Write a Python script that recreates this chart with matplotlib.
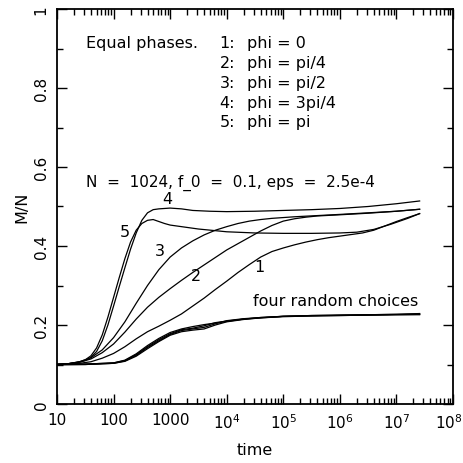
"""
Magnetizacao M/N em funcao do tempo: fases iguais e quatro escolhas aleatorias
"""

import numpy as np
import matplotlib
matplotlib.use('Agg')
import matplotlib.pyplot as plt
from matplotlib.ticker import LogLocator, MultipleLocator, FixedLocator, FixedFormatter

plt.rcParams['font.family'] = ['DejaVu Sans']
plt.rcParams['mathtext.fontset'] = 'dejavusans'

# curvas de fase igual: (log10 t, M/N)
lt1 = [1.0, 1.2, 1.4, 1.6, 1.8, 2.0, 2.2, 2.4, 2.6, 2.8, 3.0, 3.2, 3.4, 3.6, 3.8, 4.0, 4.2, 4.4, 4.6, 4.8,
       5.0, 5.2, 5.4, 5.6, 5.8, 6.0, 6.2, 6.4, 6.6, 6.8, 7.0, 7.2, 7.41]
m1 = [0.100, 0.101, 0.103, 0.107, 0.116, 0.128, 0.145, 0.165, 0.183, 0.197, 0.212, 0.228, 0.248, 0.268, 0.290,
      0.311, 0.333, 0.353, 0.372, 0.386, 0.395, 0.403, 0.410, 0.416, 0.421, 0.425, 0.429, 0.433, 0.440, 0.451,
      0.462, 0.472, 0.482]

lt2 = [1.0, 1.2, 1.4, 1.6, 1.8, 2.0, 2.2, 2.4, 2.6, 2.8, 3.0, 3.2, 3.4, 3.6, 3.8, 4.0, 4.2, 4.4, 4.6, 4.8,
       5.0, 5.2, 5.4, 5.6, 6.0, 6.5, 7.0, 7.41]
m2 = [0.100, 0.102, 0.106, 0.114, 0.130, 0.152, 0.182, 0.215, 0.245, 0.270, 0.292, 0.313, 0.333, 0.352, 0.371,
      0.390, 0.406, 0.422, 0.438, 0.452, 0.463, 0.469, 0.473, 0.476, 0.479, 0.483, 0.488, 0.493]

lt3 = [1.0, 1.2, 1.4, 1.6, 1.8, 2.0, 2.2, 2.4, 2.6, 2.8, 3.0, 3.2, 3.4, 3.6, 3.8, 4.0, 4.2, 4.4, 4.6, 4.8,
       5.0, 5.2, 5.6, 6.0, 6.5, 7.0, 7.41]
m3 = [0.100, 0.102, 0.107, 0.117, 0.137, 0.168, 0.208, 0.255, 0.300, 0.340, 0.372, 0.395, 0.413, 0.428, 0.440,
      0.449, 0.457, 0.463, 0.467, 0.470, 0.472, 0.474, 0.477, 0.480, 0.484, 0.488, 0.493]

lt4 = [1.0, 1.2, 1.4, 1.5, 1.6, 1.7, 1.8, 1.9, 2.0, 2.1, 2.2, 2.3, 2.4, 2.5, 2.6, 2.7, 2.8, 3.0, 3.2, 3.4,
       3.7, 4.0, 4.5, 5.0, 5.5, 6.0, 6.5, 7.0, 7.41]
m4 = [0.100, 0.102, 0.106, 0.110, 0.118, 0.133, 0.160, 0.200, 0.248, 0.297, 0.345, 0.392, 0.433, 0.465, 0.484,
      0.492, 0.494, 0.496, 0.494, 0.490, 0.488, 0.487, 0.488, 0.490, 0.492, 0.495, 0.500, 0.507, 0.514]

lt5 = [1.0, 1.2, 1.4, 1.5, 1.6, 1.7, 1.8, 1.9, 2.0, 2.1, 2.2, 2.3, 2.4, 2.5, 2.6, 2.7, 2.8, 2.9, 3.0, 3.2,
       3.5, 4.0, 4.5, 5.0, 5.5, 6.0, 6.3, 6.6, 6.9, 7.2, 7.41]
m5 = [0.100, 0.102, 0.107, 0.112, 0.122, 0.142, 0.175, 0.220, 0.270, 0.320, 0.368, 0.410, 0.440, 0.457, 0.465,
      0.467, 0.462, 0.457, 0.453, 0.449, 0.443, 0.436, 0.433, 0.432, 0.432, 0.433, 0.435, 0.442, 0.455, 0.470,
      0.482]

# quatro escolhas aleatorias
ltr = [1.0, 1.5, 2.0, 2.2, 2.4, 2.6, 2.8, 3.0, 3.2, 3.4, 3.6, 3.8, 4.0, 4.3, 4.6, 5.0, 5.5, 6.0, 6.5, 7.0, 7.41]
r1 = [0.100, 0.101, 0.104, 0.110, 0.125, 0.145, 0.163, 0.178, 0.188, 0.192, 0.198, 0.206, 0.210, 0.215, 0.218,
      0.222, 0.224, 0.225, 0.226, 0.227, 0.229]
r2 = [0.100, 0.100, 0.103, 0.108, 0.121, 0.140, 0.158, 0.174, 0.183, 0.187, 0.190, 0.200, 0.208, 0.214, 0.218,
      0.221, 0.223, 0.224, 0.225, 0.226, 0.227]
r3 = [0.101, 0.101, 0.104, 0.111, 0.127, 0.148, 0.166, 0.181, 0.190, 0.196, 0.201, 0.205, 0.209, 0.215, 0.219,
      0.222, 0.224, 0.225, 0.226, 0.227, 0.228]
r4 = [0.099, 0.100, 0.103, 0.109, 0.123, 0.143, 0.160, 0.176, 0.186, 0.190, 0.194, 0.203, 0.211, 0.216, 0.219,
      0.222, 0.223, 0.224, 0.225, 0.226, 0.226]

# rotulos das curvas: (texto, t, M)
curve_labels = [('1', 10**4.57, 0.347), ('2', 10**3.46, 0.326), ('3', 10**2.82, 0.388),
                ('4', 10**2.95, 0.520), ('5', 10**2.2, 0.437)]

xtick_vals = [1e1, 1e2, 1e3, 1e4, 1e5, 1e6, 1e7, 1e8]
xtick_text = ['10', '100', '1000', '$10^4$', '$10^5$', '$10^6$', '$10^7$', '$10^8$']
ytick_vals = [0, 0.2, 0.4, 0.6, 0.8, 1]
ytick_text = ['0', '0.2', '0.4', '0.6', '0.8', '1']

legend_lines = ['phi = 0', 'phi = pi/4', 'phi = pi/2', 'phi = 3pi/4', 'phi = pi']


def main():
	fig = plt.figure(figsize=(4.63, 4.64), dpi=100)
	ax = fig.add_axes([57/463, 59/464, 396/463, 395/464])

	lw = 0.9
	for lt, m in [(lt1, m1), (lt2, m2), (lt3, m3), (lt4, m4), (lt5, m5)]:
		ax.plot(10**np.array(lt), m, color='black', lw=lw)
	for r in [r1, r2, r3, r4]:
		ax.plot(10**np.array(ltr), r, color='black', lw=lw)

	ax.set_xscale('log')
	ax.set_xlim(10, 1e8)
	ax.set_ylim(0, 1)

	# o ultimo rotulo (10^8) vai a parte, deslocado para dentro da figura
	ax.xaxis.set_major_locator(FixedLocator(xtick_vals))
	ax.xaxis.set_major_formatter(FixedFormatter(xtick_text[:-1] + ['']))
	ax.xaxis.set_minor_locator(LogLocator(base=10, subs=np.arange(2, 10), numticks=20))
	ax.xaxis.set_minor_formatter(plt.NullFormatter())
	ax.yaxis.set_major_locator(FixedLocator(ytick_vals))
	ax.yaxis.set_major_formatter(FixedFormatter(ytick_text))
	ax.yaxis.set_minor_locator(MultipleLocator(0.1))

	ax.tick_params(which='both', direction='in', top=True, right=True, width=1.0, labelsize=11)
	ax.tick_params(which='major', length=7)
	ax.tick_params(which='minor', length=4)
	ax.tick_params(axis='y', which='major', labelrotation=90, pad=6)
	ax.tick_params(axis='x', which='major', pad=6)
	for lbl in ax.get_yticklabels():
		lbl.set_verticalalignment('center')
	for s in ax.spines.values():
		s.set_linewidth(1.3)

	ax.annotate(xtick_text[-1], xy=(xtick_vals[-1], 0), xycoords=('data', 'axes fraction'),
	            xytext=(-3, -6), textcoords='offset points', ha='center', va='top', fontsize=11)

	ax.set_ylabel('M/N', fontsize=11.5, labelpad=3)
	ax.set_xlabel('time', fontsize=11.5, labelpad=8)

	# textos
	fs = 11.5
	ax.text(10**1.52, 0.916, 'Equal phases.', fontsize=fs, va='center', ha='left')
	for i, s in enumerate(legend_lines):
		y = 0.916 - i*0.0505
		ax.text(10**3.875, y, '%d:' % (i + 1), fontsize=fs, va='center', ha='left')
		ax.text(10**4.36, y, s, fontsize=fs, va='center', ha='left')
	ax.text(10**1.52, 0.562, 'N  =  1024, f_0  =  0.1, eps  =  2.5e-4', fontsize=11, va='center', ha='left')
	ax.text(10**4.46, 0.261, 'four random choices', fontsize=fs, va='center', ha='left')
	for s, t, m in curve_labels:
		ax.text(t, m, s, fontsize=fs, va='center', ha='center')

	fig.savefig('out.png', dpi=100)


if __name__ == '__main__':
	main()
